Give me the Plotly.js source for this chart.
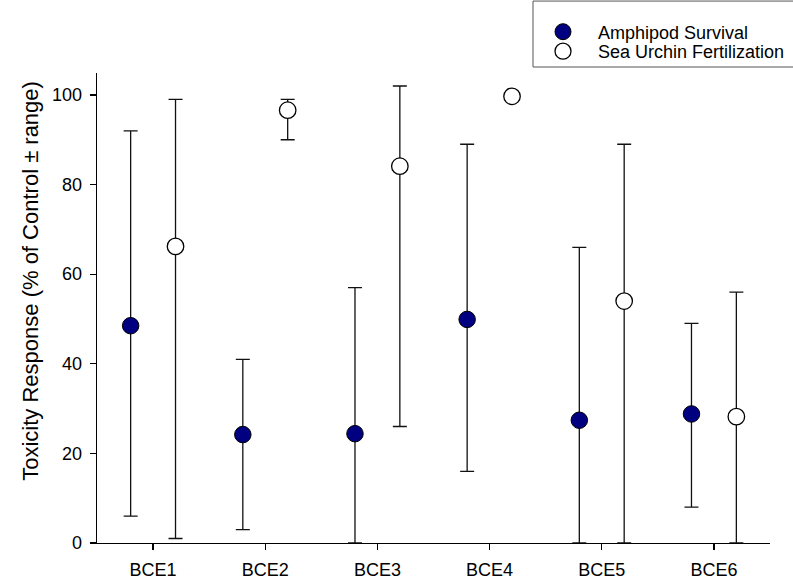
<!DOCTYPE html>
<html>
<head>
<meta charset="utf-8">
<script src="https://cdn.plot.ly/plotly-3.0.1.min.js"></script>
<style>html,body{margin:0;padding:0;background:#fff;}#chart{width:793px;height:584px;}</style>
</head>
<body>
<div id="chart"></div>
<script>
var categories = ["BCE1", "BCE2", "BCE3", "BCE4", "BCE5", "BCE6"];

var amphipodMean = [48.5, 24.2, 24.4, 49.9, 27.4, 28.8];
var amphipodHigh = [92, 41, 57, 89, 66, 49];
var amphipodLow  = [6, 3, 0, 16, 0, 8];

var urchinMean = [66.2, 96.6, 84.1, 99.7, 54.0, 28.2];
var urchinHigh = [99, 99, 102, 99.7, 89, 56];
var urchinLow  = [1, 90, 26, 99.7, 0, 0];

var yTicks = [0, 20, 40, 60, 80, 100];
var yTitle = "Toxicity Response (% of Control \u00b1 range)";

var groupOffset = 0.2;
var catPos = categories.map(function (c, i) { return i + 1; });

function plus(m, h) { return m.map(function (v, i) { return Math.max(h[i] - v, 0); }); }
function minus(m, l) { return m.map(function (v, i) { return Math.max(v - l[i], 0); }); }

var errStyle = { color: "#111111", thickness: 1.3, width: 7 };
var FONT = "Arial, 'Liberation Sans', sans-serif";

var traces = [
  {
    name: "Amphipod Survival",
    legend: "legend",
    type: "scatter", mode: "markers",
    x: catPos.map(function (p) { return p - groupOffset; }),
    y: amphipodMean,
    marker: { size: 16.5, color: "#000080", line: { color: "#000000", width: 1 } },
    error_y: Object.assign({ type: "data", symmetric: false,
      array: plus(amphipodMean, amphipodHigh), arrayminus: minus(amphipodMean, amphipodLow) }, errStyle),
    cliponaxis: false
  },
  {
    name: "Sea Urchin Fertilization",
    legend: "legend2",
    type: "scatter", mode: "markers",
    x: catPos.map(function (p) { return p + groupOffset; }),
    y: urchinMean,
    marker: { size: 16.5, color: "#ffffff", line: { color: "#000000", width: 1.3 } },
    error_y: Object.assign({ type: "data", symmetric: false,
      array: plus(urchinMean, urchinHigh), arrayminus: minus(urchinMean, urchinLow) }, errStyle),
    cliponaxis: false
  }
];

// plot area: l=97, r=23 (width 673), t=73, b=40.5 (height 470.5)
function px2paperX(px) { return (px - 97) / 673; }
function px2paperY(py) { return (543.5 - py) / 470.5; }
function px2contX(px) { return px / 793; }
function px2contY(py) { return 1 - py / 584; }

var legendCommon = {
  xref: "container", yref: "container",
  xanchor: "left", yanchor: "middle",
  bgcolor: "rgba(0,0,0,0)", borderwidth: 0,
  font: { size: 18, family: FONT, color: "#000000" },
  itemwidth: 60
};

var layout = {
  width: 793, height: 584,
  margin: { l: 97, r: 23, t: 73, b: 40.5, autoexpand: false },
  paper_bgcolor: "#ffffff", plot_bgcolor: "#ffffff",
  font: { family: FONT, color: "#000000", size: 18 },
  showlegend: true,
  legend: Object.assign({ x: px2contX(528), y: px2contY(32) }, legendCommon),
  legend2: Object.assign({ x: px2contX(528), y: px2contY(51.5) }, legendCommon),
  shapes: [{
    type: "rect", xref: "paper", yref: "paper", layer: "below",
    x0: px2paperX(533), x1: px2paperX(805), y0: px2paperY(67), y1: px2paperY(1),
    line: { color: "#555555", width: 1 }, fillcolor: "#ffffff"
  }],
  annotations: [{
    text: yTitle, xref: "paper", yref: "paper",
    x: px2paperX(31), y: px2paperY(281), xanchor: "center", yanchor: "middle",
    textangle: -90, showarrow: false, font: { size: 22, family: FONT, color: "#000000" }
  }],
  xaxis: {
    range: [0.5, 6.5],
    tickmode: "array", tickvals: catPos, ticktext: categories,
    showgrid: false, zeroline: false,
    showline: true, linecolor: "#000000", linewidth: 1.3,
    ticks: "outside", ticklen: 6, tickwidth: 1.3, tickcolor: "#000000",
    ticklabelstandoff: 4,
    tickfont: { size: 18 }
  },
  yaxis: {
    range: [0, 104.9],
    tickmode: "array", tickvals: yTicks, ticktext: yTicks.map(String),
    showgrid: false, zeroline: false,
    showline: true, linecolor: "#000000", linewidth: 1.3,
    ticks: "outside", ticklen: 6, tickwidth: 1.3, tickcolor: "#000000",
    ticklabelstandoff: 4,
    tickfont: { size: 18 }
  }
};

Plotly.newPlot("chart", traces, layout, { displayModeBar: false, staticPlot: true });
</script>
</body>
</html>
